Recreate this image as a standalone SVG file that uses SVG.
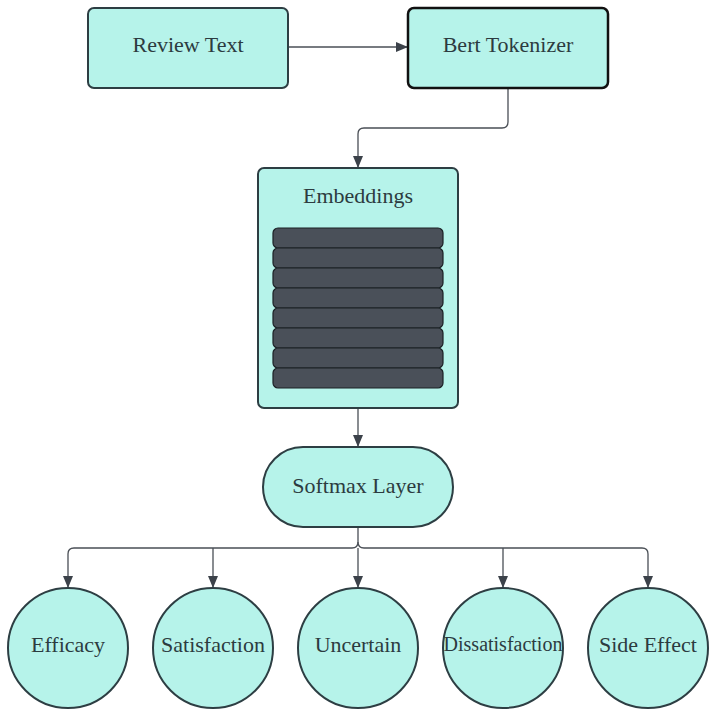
<svg xmlns="http://www.w3.org/2000/svg" width="720" height="721" viewBox="0 0 720 721">
<style>
.box{fill:#b6f3ea;stroke:#2d3e43;stroke-width:2}
.bar{fill:#4a5059;stroke:#1b2025;stroke-width:1.2}
.lbl{font-family:"Liberation Serif","DejaVu Serif",serif;font-size:22px;fill:#2c3b40;text-anchor:middle;dominant-baseline:central}
.conn{fill:none;stroke:#4a4f56;stroke-width:1.3}
</style>
<defs>
<marker id="ah" markerWidth="12" markerHeight="12" refX="11" refY="6" orient="auto" markerUnits="userSpaceOnUse">
<path d="M0,1 L12,6 L0,11 Z" fill="#3c424a"/>
</marker>
</defs>
<rect width="720" height="721" fill="#ffffff"/>
<g id="connectors">
<path class="conn" d="M288,47 H407" marker-end="url(#ah)"/>
<path class="conn" d="M508,88 V122 Q508,128 502,128 H364 Q358,128 358,134 V167" marker-end="url(#ah)"/>
<path class="conn" d="M358,408 V446" marker-end="url(#ah)"/>
<path class="conn" d="M358,527 V542 Q358,548 352,548 H74 Q68,548 68,554 V587" marker-end="url(#ah)"/>
<path class="conn" d="M358,542 Q358,548 364,548 H642 Q648,548 648,554 V587" marker-end="url(#ah)"/>
<path class="conn" d="M213,548 V587" marker-end="url(#ah)"/>
<path class="conn" d="M358,548 V587" marker-end="url(#ah)"/>
<path class="conn" d="M503,548 V587" marker-end="url(#ah)"/>
</g>
<g id="review-text">
<rect class="box" x="88" y="8" width="200" height="80" rx="6"/>
<text class="lbl" x="188" y="44">Review Text</text>
</g>
<g id="bert-tokenizer">
<rect class="box" x="408" y="8" width="200" height="80" rx="6" style="stroke:#111;stroke-width:2.5"/>
<text class="lbl" x="508" y="44">Bert Tokenizer</text>
</g>
<g id="embeddings">
<rect class="box" x="258" y="168" width="200" height="240" rx="6"/>
<text class="lbl" x="358" y="195">Embeddings</text>
<rect class="bar" x="273" y="228" width="170" height="20" rx="5"/>
<rect class="bar" x="273" y="248" width="170" height="20" rx="5"/>
<rect class="bar" x="273" y="268" width="170" height="20" rx="5"/>
<rect class="bar" x="273" y="288" width="170" height="20" rx="5"/>
<rect class="bar" x="273" y="308" width="170" height="20" rx="5"/>
<rect class="bar" x="273" y="328" width="170" height="20" rx="5"/>
<rect class="bar" x="273" y="348" width="170" height="20" rx="5"/>
<rect class="bar" x="273" y="368" width="170" height="20" rx="5"/>
</g>
<g id="softmax-layer">
<rect class="box" x="263" y="447" width="190" height="80" rx="40"/>
<text class="lbl" x="358" y="485">Softmax Layer</text>
</g>
<g id="efficacy">
<ellipse class="box" cx="68" cy="648" rx="60" ry="60"/>
<text class="lbl" x="68" y="644">Efficacy</text>
</g>
<g id="satisfaction">
<ellipse class="box" cx="213" cy="648" rx="60" ry="60"/>
<text class="lbl" x="213" y="644">Satisfaction</text>
</g>
<g id="uncertain">
<ellipse class="box" cx="358" cy="648" rx="60" ry="60"/>
<text class="lbl" x="358" y="644">Uncertain</text>
</g>
<g id="dissatisfaction">
<ellipse class="box" cx="503" cy="648" rx="60" ry="60"/>
<text class="lbl" x="503" y="644" style="font-size:20px">Dissatisfaction</text>
</g>
<g id="side-effect">
<ellipse class="box" cx="648" cy="648" rx="60" ry="60"/>
<text class="lbl" x="648" y="644">Side Effect</text>
</g>
</svg>
